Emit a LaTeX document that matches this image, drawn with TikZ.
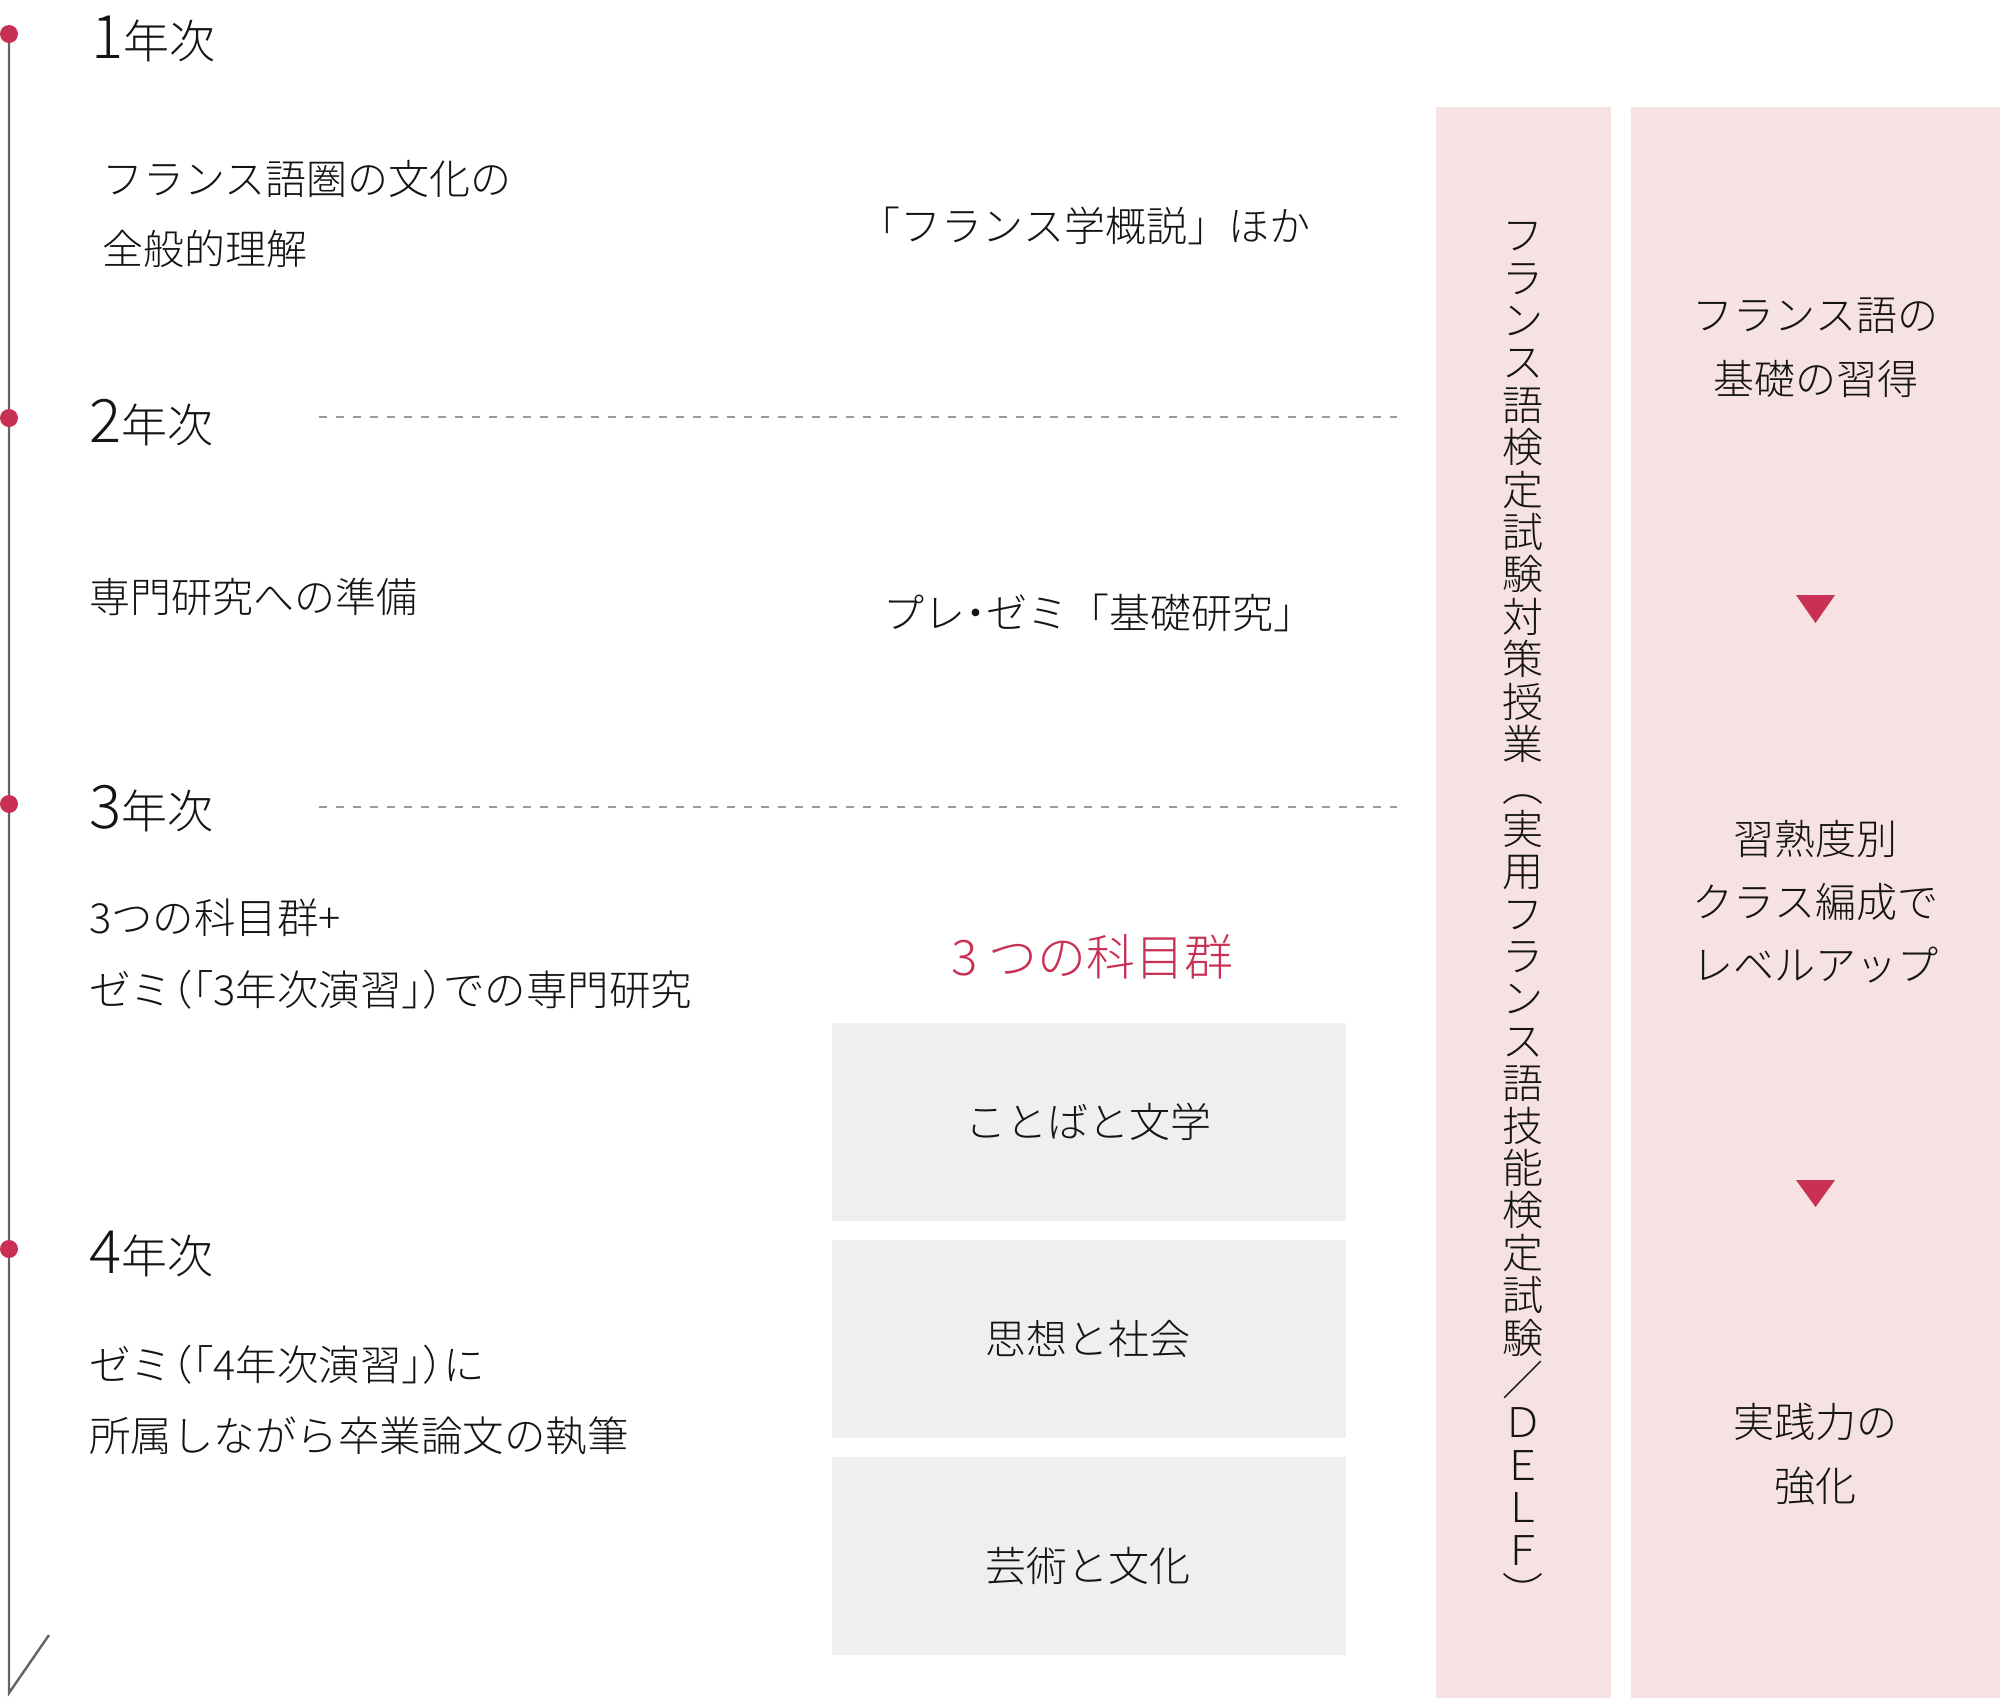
\documentclass[tikz,border=0pt]{standalone}
\usepackage{fontspec}
\IfFontExistsTF{Noto Sans CJK JP Light}{\newfontfamily\jp{Noto Sans CJK JP Light}}{\newfontfamily\jp{Noto Sans CJK JP}}
\newcommand{\hw}[1]{{\addfontfeature{RawFeature=+halt}#1}}
\definecolor{crim}{RGB}{200,48,84}
\definecolor{pinkbg}{RGB}{246,226,226}
\definecolor{graybg}{RGB}{239,239,239}
\definecolor{tlgray}{RGB}{100,100,100}
\definecolor{dashgray}{RGB}{155,155,155}
\definecolor{txt}{RGB}{20,20,20}
\tikzset{
  yrlabel/.style={anchor=base west,inner sep=0pt,text=txt,font=\jp\fontsize{46}{46}\selectfont},
  bodytxt/.style={inner sep=0pt,text=txt,align=left,font=\jp\fontsize{41}{70}\selectfont},
  ctrtxt/.style={inner sep=0pt,text=txt,align=center,font=\jp\fontsize{41}{64}\selectfont},
  graybox/.style={fill=graybg,draw=none,minimum width=514pt,minimum height=198pt,inner sep=0pt},
  boxtxt/.style={inner sep=0pt,text=txt,font=\jp\fontsize{41}{41}\selectfont},
  pinkcol/.style={fill=pinkbg,draw=none,inner sep=0pt},
  dotmark/.style={circle,fill=crim,draw=none,minimum size=18pt,inner sep=0pt},
  dashline/.style={draw=dashgray,line width=1.8pt,dash pattern=on 8pt off 9pt},
  tlline/.style={draw=tlgray,line width=2.4pt},
  tri/.style={fill=crim,draw=none}
}
\newcommand{\bignum}[1]{{\fontsize{60}{60}\selectfont #1}}
\begin{document}
\begin{tikzpicture}[x=1pt,y=-1pt]
\useasboundingbox (0,0) rectangle (2000,1698);

% pink columns
\node[pinkcol,minimum width=175pt,minimum height=1591pt] (c1) at (1523.5,902.5) {};
\node[pinkcol,minimum width=369pt,minimum height=1591pt] (c2) at (1815.5,902.5) {};

% timeline
\coordinate (tTop) at (9,34);
\coordinate (tBot) at (9,1693);
\coordinate (tEnd) at (49,1635);
\draw[tlline] (tTop) -- (tBot) -- (tEnd);
\node[dotmark] (d1) at (9,34) {};
\node[dotmark] (d2) at (9,418) {};
\node[dotmark] (d3) at (9,804) {};
\node[dotmark] (d4) at (9,1249) {};

% year labels
\node[yrlabel] (y1) at (91,58) {\bignum{1}年次};
\node[yrlabel] (y2) at (89,442) {\bignum{2}年次};
\node[yrlabel] (y3) at (89,828) {\bignum{3}年次};
\node[yrlabel] (y4) at (89,1273) {\bignum{4}年次};

% dashed separators
\coordinate (s2a) at (319,417);
\coordinate (s2b) at (1397,417);
\coordinate (s3a) at (319,807);
\coordinate (s3b) at (1397,807);
\draw[dashline] (s2a) -- (s2b);
\draw[dashline] (s3a) -- (s3b);

% left texts
\node[bodytxt,anchor=west] (t1) at (102,214) {フランス語圏の文化の\\全般的理解};
\node[bodytxt,anchor=west] (t2) at (89,597) {専門研究への準備};
\node[bodytxt,anchor=west,font=\jp\fontsize{41.5}{72}\selectfont] (t3) at (89,954) {3つの科目群+\\ゼミ\hw{（「}3年次演習\hw{」）}での専門研究};
\node[bodytxt,anchor=west,font=\jp\fontsize{41.5}{71}\selectfont] (t4) at (89,1400) {ゼミ\hw{（「}4年次演習\hw{」）}に\\所属しながら卒業論文の執筆};

% middle texts
\node[ctrtxt] (m1) at (1085,226) {「フランス学概説」ほか};
\node[ctrtxt] (m2) at (1099,613) {プレ\hw{・}ゼミ「基礎研究」};
\node[ctrtxt,text=crim,font=\jp\fontsize{49}{49}\selectfont] (m3) at (1093,957) {3 つの科目群};

% gray boxes
\node[graybox] (g1) at (1089,1122) {};
\node[graybox] (g2) at (1089,1338.5) {};
\node[graybox] (g3) at (1089,1555.5) {};
\node[boxtxt] (g1t) at (1088,1122) {ことばと文学};
\node[boxtxt] (g2t) at (1088,1339) {思想と社会};
\node[boxtxt] (g3t) at (1088,1566) {芸術と文化};

% vertical text
\node[inner sep=0pt,text=txt,align=center,font=\jp\fontsize{41}{42.4}\selectfont] (vt) at (1523,915)
 {フ\\ラ\\ン\\ス\\語\\検\\定\\試\\験\\対\\策\\授\\業\\︵\\実\\用\\フ\\ラ\\ン\\ス\\語\\技\\能\\検\\定\\試\\験\\／\\Ｄ\\Ｅ\\Ｌ\\Ｆ\\︶};

% right column texts
\node[ctrtxt] (r1) at (1815.5,348) {フランス語の\\基礎の習得};
\node[ctrtxt,font=\jp\fontsize{41}{63}\selectfont] (r2) at (1815.5,902) {習熟度別\\クラス編成で\\レベルアップ};
\node[ctrtxt] (r3) at (1815.5,1454) {実践力の\\強化};

% triangles
\coordinate (a1l) at (1796,595);
\coordinate (a1r) at (1835,595);
\coordinate (a1t) at (1815.5,623);
\fill[tri] (a1l) -- (a1r) -- (a1t) -- cycle;
\coordinate (a2l) at (1796,1180);
\coordinate (a2r) at (1835,1180);
\coordinate (a2t) at (1815.5,1207);
\fill[tri] (a2l) -- (a2r) -- (a2t) -- cycle;
\end{tikzpicture}
\end{document}
